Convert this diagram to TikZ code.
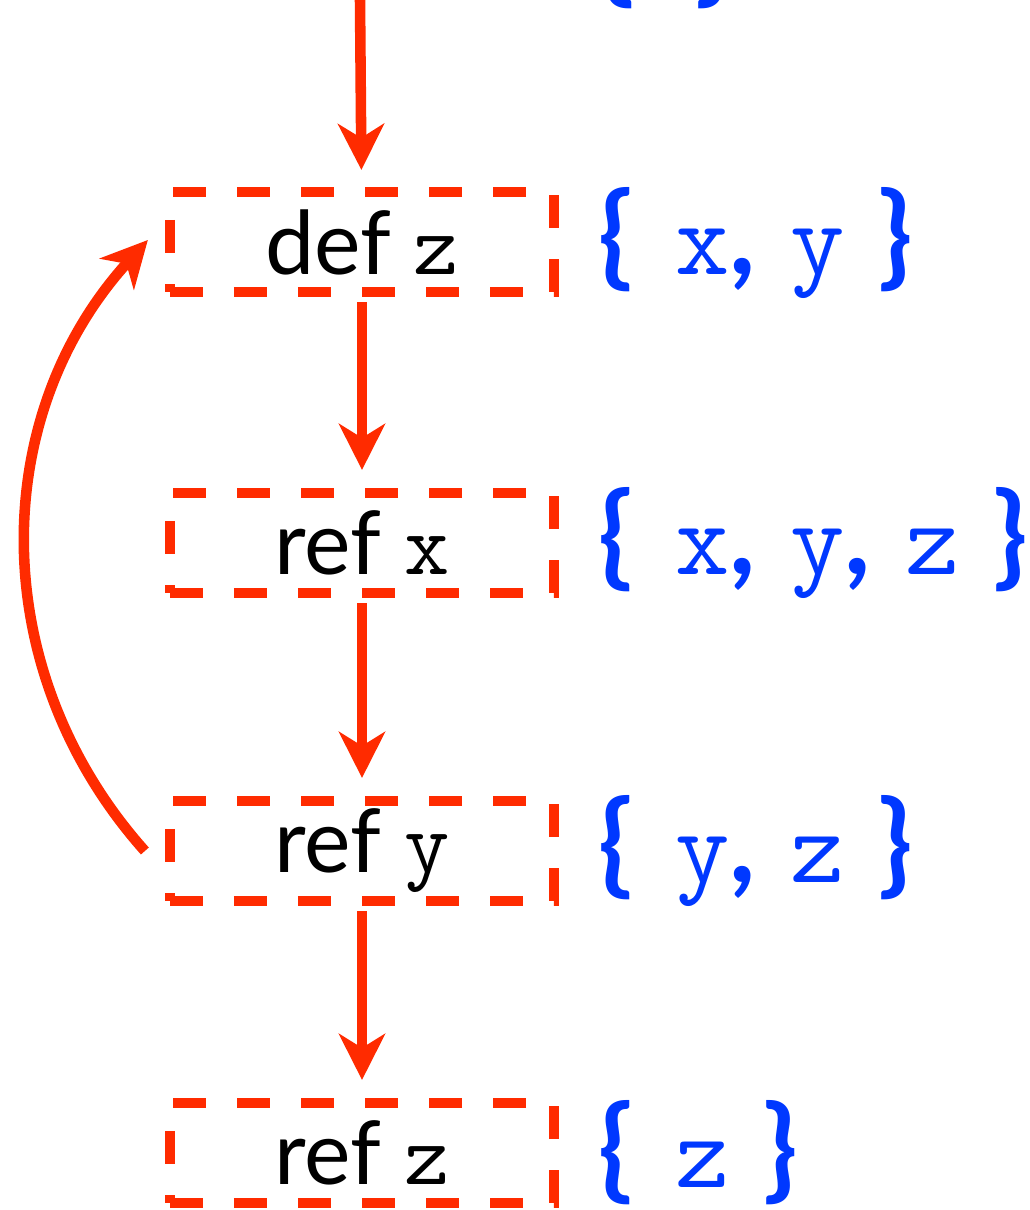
\documentclass[tikz,border=0pt]{standalone}
\usepackage{fontspec}
\newfontfamily\gillfont{Lato}
\usetikzlibrary{arrows.meta}

\definecolor{flowred}{RGB}{255,43,0}
\definecolor{liveblue}{RGB}{0,56,255}

% variable names in a typewriter face
\newcommand{\var}[2][25]{{\fontsize{#1}{#1}\selectfont\mdseries\ttfamily #2}}
% extra room between the members of a set
\newcommand{\sep}[1]{\hspace{#1cm}\ }

\tikzset{
  stmt/.style={draw=flowred, line width=2.85pt, dash pattern=on 0.33cm off 0.31cm,
    minimum width=3.84cm, minimum height=1cm, inner sep=0pt,
    font=\gillfont\fontsize{25}{28}\selectfont},
  liveset/.style={anchor=west, inner sep=0pt, text=liveblue,
    font=\gillfont\bfseries\fontsize{32}{36}\selectfont},
  flow/.style={draw=flowred, line width=3pt,
    -{Stealth[length=0.46cm, width=0.46cm, inset=0.14cm]}},
}

\begin{document}
\begin{tikzpicture}[x=0.01cm, y=0.01cm]

    % frame of the picture
    \useasboundingbox (0,0) rectangle (1029,-1210);

    % statements
    \coordinate (entry) at (360,0);
    \node[stmt] (dz) at (362,-242)  {def\ \var{z}};
    \node[stmt] (rx) at (362,-543)  {ref\ \var{x}};
    \node[stmt] (ry) at (362,-851)  {ref\ \var{y}};
    \node[stmt] (rz) at (362,-1153) {ref\ \var{z}};

    % live variables beside each statement
    \node[liveset] (lin)  at (600,43)    {\{\sep{0.06}\ \}};
    \node[liveset] (ldz)  at (598,-243)  {\{\sep{0.15}\var[30]{x},\sep{0.07}\var[30]{y}\sep{0.06}\}};
    \node[liveset] (lrx)  at (598,-543)  {\{\sep{0.15}\var[30]{x},\sep{0.07}\var[30]{y},\sep{0.07}\var[30]{z}\sep{0.06}\}};
    \node[liveset] (lry)  at (598,-851)  {\{\sep{0.15}\var[30]{y},\sep{0.07}\var[30]{z}\sep{0.06}\}};
    \node[liveset] (lrz)  at (598,-1153) {\{\sep{0.15}\var[30]{z}\sep{0.06}\}};

    % control flow
    \draw[flow, shorten >=0.17cm] (entry) -- (dz);
    \foreach \a/\b in {dz/rx, rx/ry, ry/rz}
        \draw[flow, shorten <=0.05cm, shorten >=0.18cm] (\a) -- (\b);

    % back edge
    \draw[flow] ([xshift=-0.2cm]ry.west) to[bend left=42]
        ([xshift=-0.17cm, yshift=0.02cm]dz.west);

\end{tikzpicture}
\end{document}
